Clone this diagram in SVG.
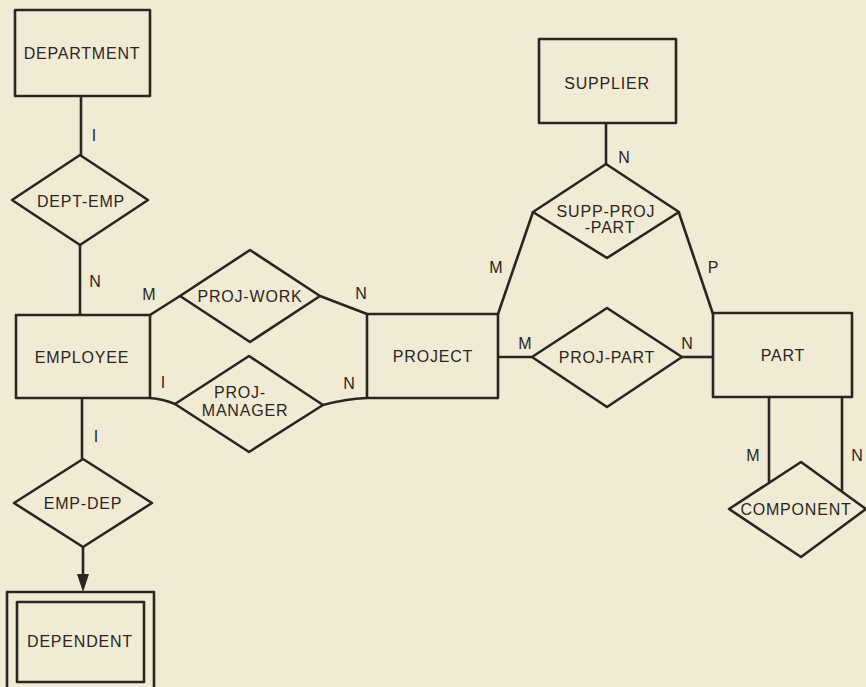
<svg xmlns="http://www.w3.org/2000/svg" width="866" height="687" viewBox="0 0 866 687">
<style>
.bg{fill:#f1ebd6}
.shape{fill:none;stroke:#2b2520;stroke-width:2.6;stroke-linejoin:round}
.edge{fill:none;stroke:#2b2520;stroke-width:2.6}
.t{font-family:"Liberation Sans",Arial,sans-serif;font-size:16px;letter-spacing:0.8px;fill:#2b2520;text-anchor:middle;dominant-baseline:central}
.lbl{font-family:"Liberation Sans",Arial,sans-serif;font-size:16px;fill:#2b2520;text-anchor:middle;dominant-baseline:central}
</style>
<rect class="bg" x="0" y="0" width="866" height="687"/>

<g id="connectors">
<line class="edge" x1="81" y1="96" x2="81" y2="155"/>
<line class="edge" x1="80" y1="245" x2="80" y2="315"/>
<line class="edge" x1="150" y1="315" x2="180" y2="296"/>
<line class="edge" x1="320" y1="296" x2="367" y2="314"/>
<path class="edge" d="M150,398 Q163,399 175,404"/>
<path class="edge" d="M323,405 Q345,399 367,398"/>
<line class="edge" x1="82" y1="398" x2="82" y2="459"/>
<line class="edge" x1="83" y1="547" x2="83" y2="575"/>
<path d="M77,574 L89,574 L83,592 Z" fill="#2b2520"/>
<line class="edge" x1="606" y1="123" x2="606" y2="164"/>
<line class="edge" x1="533" y1="212" x2="498" y2="314"/>
<line class="edge" x1="679" y1="213" x2="713" y2="314"/>
<line class="edge" x1="498" y1="357" x2="532" y2="357"/>
<line class="edge" x1="682" y1="357" x2="713" y2="357"/>
<line class="edge" x1="769" y1="397" x2="769" y2="482"/>
<line class="edge" x1="842" y1="397" x2="842" y2="491"/>
</g>

<g id="labels">
<text class="lbl" x="94" y="135">I</text>
<text class="lbl" x="95" y="281">N</text>
<text class="lbl" x="149" y="294">M</text>
<text class="lbl" x="361" y="293">N</text>
<text class="lbl" x="163" y="382">I</text>
<text class="lbl" x="349" y="383">N</text>
<text class="lbl" x="96" y="436">I</text>
<text class="lbl" x="624" y="157">N</text>
<text class="lbl" x="496" y="267">M</text>
<text class="lbl" x="713" y="267">P</text>
<text class="lbl" x="525" y="343">M</text>
<text class="lbl" x="687" y="343">N</text>
<text class="lbl" x="753" y="455">M</text>
<text class="lbl" x="857" y="455">N</text>
</g>

<g id="department">
<rect class="shape" x="15" y="10" width="135" height="86"/>
<text class="t" x="82" y="53">DEPARTMENT</text>
</g>

<g id="dept-emp">
<polygon class="shape" points="80,155 148,200 80,245 12,200"/>
<text class="t" x="81" y="201">DEPT-EMP</text>
</g>

<g id="employee">
<rect class="shape" x="16" y="315" width="134" height="83"/>
<text class="t" x="82" y="357">EMPLOYEE</text>
</g>

<g id="proj-work">
<polygon class="shape" points="250,250 320,296 250,342 180,296"/>
<text class="t" x="250" y="296">PROJ-WORK</text>
</g>

<g id="proj-manager">
<polygon class="shape" points="249,356 323,405 249,452 175,404"/>
<text class="t" x="240" y="392">PROJ-</text>
<text class="t" x="245" y="410">MANAGER</text>
</g>

<g id="project">
<rect class="shape" x="367" y="314" width="131" height="84"/>
<text class="t" x="433" y="356">PROJECT</text>
</g>

<g id="emp-dep">
<polygon class="shape" points="83,459 152,503 83,547 14,503"/>
<text class="t" x="83" y="503">EMP-DEP</text>
</g>

<g id="dependent">
<rect class="shape" x="7" y="592" width="147" height="110"/>
<rect class="shape" x="17" y="602" width="127" height="80"/>
<text class="t" x="80" y="641">DEPENDENT</text>
</g>

<g id="supplier">
<rect class="shape" x="539" y="39" width="137" height="84"/>
<text class="t" x="607" y="83">SUPPLIER</text>
</g>

<g id="supp-proj-part">
<polygon class="shape" points="606,164 679,212 607,258 533,212"/>
<text class="t" x="606" y="211">SUPP-PROJ</text>
<text class="t" x="610" y="227">-PART</text>
</g>

<g id="proj-part">
<polygon class="shape" points="607,308 682,357 607,407 532,357"/>
<text class="t" x="607" y="357">PROJ-PART</text>
</g>

<g id="part">
<rect class="shape" x="713" y="313" width="139" height="84"/>
<text class="t" x="783" y="355">PART</text>
</g>

<g id="component">
<polygon class="shape" points="801,462 866,509 801,557 729,509"/>
<text class="t" x="796" y="509">COMPONENT</text>
</g>
</svg>
